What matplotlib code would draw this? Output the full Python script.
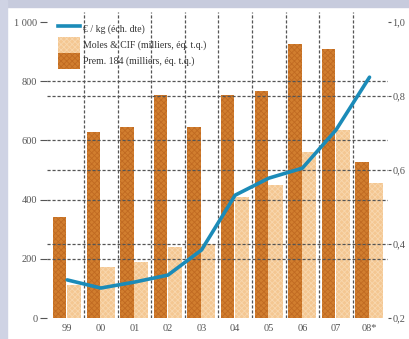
import numpy as np
import matplotlib
matplotlib.use('Agg')
import matplotlib.pyplot as plt
from matplotlib.patches import Rectangle, Patch
from matplotlib.lines import Line2D

plt.rcParams['font.family'] = ['Liberation Serif', 'DejaVu Serif']
plt.rcParams['hatch.linewidth'] = 0.6

# données
annees = ['99', '00', '01', '02', '03', '04', '05', '06', '07', '08*']
prem = [341, 628, 645, 753, 645, 753, 767, 926, 909, 527]
moles = [111, 172, 189, 240, 250, 409, 449, 560, 635, 456]
prix = [0.303, 0.281, 0.297, 0.316, 0.384, 0.532, 0.578, 0.605, 0.708, 0.851]

lab_prix = '€ / kg (éch. dte)'
lab_moles = 'Moles & CIF (milliers, éq. t.q.)'
lab_prem = 'Prem. 184 (milliers, éq. t.q.)'

c_fonce = '#d17e2f'
c_clair = '#f4c792'
c_ligne = '#1b8bb8'
c_grille = '#555555'
c_texte = '#555555'

fig = plt.figure(figsize=(4.09, 3.39), dpi=100)
W, H = 409, 339
ax = fig.add_axes([47 / W, (H - 318) / H, (388 - 47) / W, (318 - 12) / H])
ax2 = ax.twinx()

x = np.arange(len(annees))
ax.bar(x - 0.22, prem, width=0.40, color=c_fonce, edgecolor='#c06a22',
       linewidth=0, hatch='xxxxxx', zorder=2)
ax.bar(x + 0.20, moles, width=0.42, color=c_clair, edgecolor='#f8d7ae',
       linewidth=0, hatch='xxxxxx', zorder=2)

top_left = 1034
ax.set_xlim(-0.6, 9.55)
ax.set_ylim(0, top_left)
ax2.set_ylim(0.2, 0.2 + 0.8 * top_left / 1000)

# grille pointillée des deux échelles
for v in [200, 400, 600, 800]:
    ax.axhline(v, color=c_grille, lw=0.9, ls=(0, (2.5, 1.5)), zorder=3)
for v in [0.4, 0.6, 0.8]:
    ax2.axhline(v, color=c_grille, lw=0.9, ls=(0, (2.5, 1.5)), zorder=3)
for xs in x[:-1] + 0.5:
    ax.axvline(xs, color=c_grille, lw=0.9, ls=(0, (2.5, 1.5)), zorder=3)

ax2.plot(x, prix, color=c_ligne, lw=2.6, solid_joinstyle='round',
         solid_capstyle='round', zorder=5)

for a in (ax, ax2):
    for s in a.spines.values():
        s.set_visible(False)

ax.set_yticks([0, 200, 400, 600, 800, 1000])
ax.set_yticklabels(['0', '200', '400', '600', '800', '1 000'])
ax2.set_yticks([0.2, 0.4, 0.6, 0.8, 1.0])
ax2.set_yticklabels(['0,2', '0,4', '0,6', '0,8', '1,0'])
ax.set_xticks(x)
ax.set_xticklabels(annees)
ax.tick_params(axis='y', length=5, width=0.8, color=c_grille, labelsize=7.5,
               labelcolor=c_texte, pad=2)
ax2.tick_params(axis='y', length=2, width=0.8, color=c_grille, labelsize=7.5,
                labelcolor=c_texte, pad=1)
ax.tick_params(axis='x', length=0, labelsize=7.5, labelcolor=c_texte, pad=4)

ax2.set_zorder(ax.get_zorder() + 1)
ax2.patch.set_visible(False)

handles = [Line2D([], [], color=c_ligne, lw=2.6),
           Patch(facecolor=c_clair, edgecolor='#f8d7ae', lw=0, hatch='xxxxxx'),
           Patch(facecolor=c_fonce, edgecolor='#c06a22', lw=0, hatch='xxxxxx')]
leg = ax2.legend(handles, [lab_prix, lab_moles, lab_prem], loc='upper left',
                 bbox_to_anchor=(0.02, 0.985), frameon=False, fontsize=7,
                 handlelength=2.3, handleheight=2.1, handletextpad=0.3,
                 labelspacing=0.08, borderaxespad=0)
for t in leg.get_texts():
    t.set_color('#333333')

# cadre gris-bleu en haut et à gauche
fig.patches.append(Rectangle((0, 1 - 7 / H), 1, 7 / H, transform=fig.transFigure,
                             color='#c7cbdd', zorder=10))
fig.patches.append(Rectangle((0, 0), 7 / W, 1, transform=fig.transFigure,
                             color='#cfd3e4', zorder=10))

fig.savefig('out.png', dpi=100)
